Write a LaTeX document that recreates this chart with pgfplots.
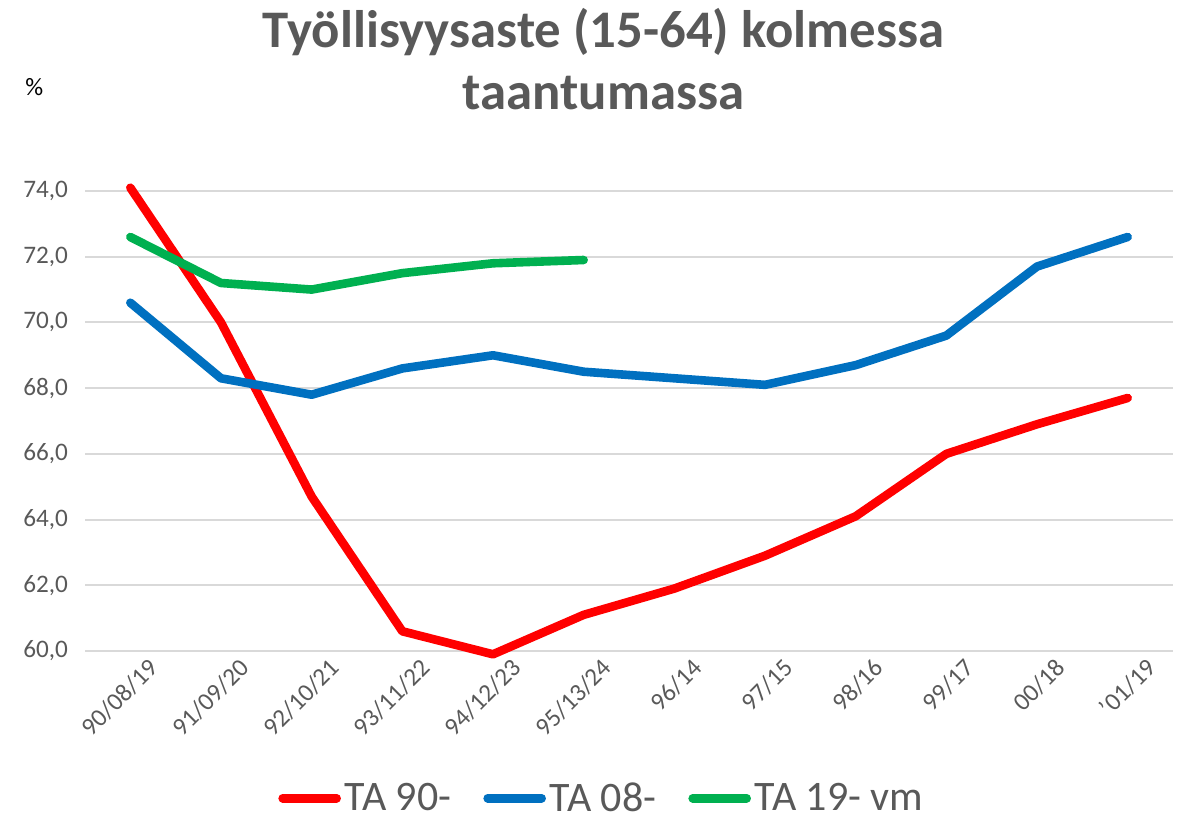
\documentclass[border=0pt]{standalone}
\usepackage{pgfplots}
\pgfplotsset{compat=1.18}
\usepackage{fontspec}
\setmainfont{Carlito}
\definecolor{txtgray}{HTML}{595959}
\definecolor{gridgray}{HTML}{D9D9D9}
\definecolor{ta90}{HTML}{FF0000}
\definecolor{ta08}{HTML}{0070C0}
\definecolor{ta19}{HTML}{00B050}

\begin{document}
\begin{tikzpicture}
\useasboundingbox (0,0) rectangle (594.5pt,410pt);

\node[anchor=base, text=txtgray, font=\fontsize{26.4}{30}\selectfont\bfseries] at (301.75pt,386pt) {Työllisyysaste (15-64) kolmessa};
\node[anchor=base, text=txtgray, font=\fontsize{26.4}{30}\selectfont\bfseries] at (301.75pt,355pt) {taantumassa};
\node[anchor=base west, inner sep=0pt, font=\fontsize{12.5}{14}\selectfont] at (12.5pt,362pt) {\%};

\begin{axis}[
    at={(42.5pt,84.5pt)}, anchor=south west,
    scale only axis,
    width=544pt, height=230pt,
    xmin=-0.5, xmax=11.5,
    ymin=60, ymax=74,
    clip=false,
    axis line style={draw=none},
    major tick length=0pt,
    ytick={60,62,...,74},
    ymajorgrids,
    grid style={gridgray, line width=1pt},
    xtick={0,...,11},
    xticklabels={90/08/19,91/09/20,92/10/21,93/11/22,94/12/23,95/13/24,96/14,97/15,98/16,99/17,00/18,'01/19},
    xticklabel style={rotate=45, anchor=north east, inner sep=1pt, xshift=5pt, yshift=-7pt},
    yticklabel style={xshift=-5pt},
    tick label style={text=txtgray, font=\fontsize{12.6}{14}\selectfont},
    /pgf/number format/.cd, fixed, fixed zerofill, precision=1, use comma, assume math mode=true,
    /pgfplots/.cd,
    every axis plot/.append style={line width=4.3pt, line cap=round, line join=round},
    legend columns=3,
    legend style={at={(0.476,-0.32)}, anchor=center, draw=none, fill=none,
        font=\fontsize{21}{24}\selectfont, text=txtgray,
        /tikz/every even column/.append style={column sep=14pt},
        inner sep=0pt},
    legend image code/.code={\draw[#1, line width=4.3pt, line cap=round] (0pt,0pt) -- (27pt,0pt);},
]
\addplot[ta90] coordinates {
    (0,74.1) (1,70.0) (2,64.7) (3,60.6) (4,59.9) (5,61.1)
    (6,61.9) (7,62.9) (8,64.1) (9,66.0) (10,66.9) (11,67.7)
};
\addlegendentry{TA 90-}
\addplot[ta08] coordinates {
    (0,70.6) (1,68.3) (2,67.8) (3,68.6) (4,69.0) (5,68.5)
    (6,68.3) (7,68.1) (8,68.7) (9,69.6) (10,71.7) (11,72.6)
};
\addlegendentry{TA 08-}
\addplot[ta19] coordinates {
    (0,72.6) (1,71.2) (2,71.0) (3,71.5) (4,71.8) (5,71.9)
};
\addlegendentry{TA 19- vm}
\end{axis}
\end{tikzpicture}
\end{document}
